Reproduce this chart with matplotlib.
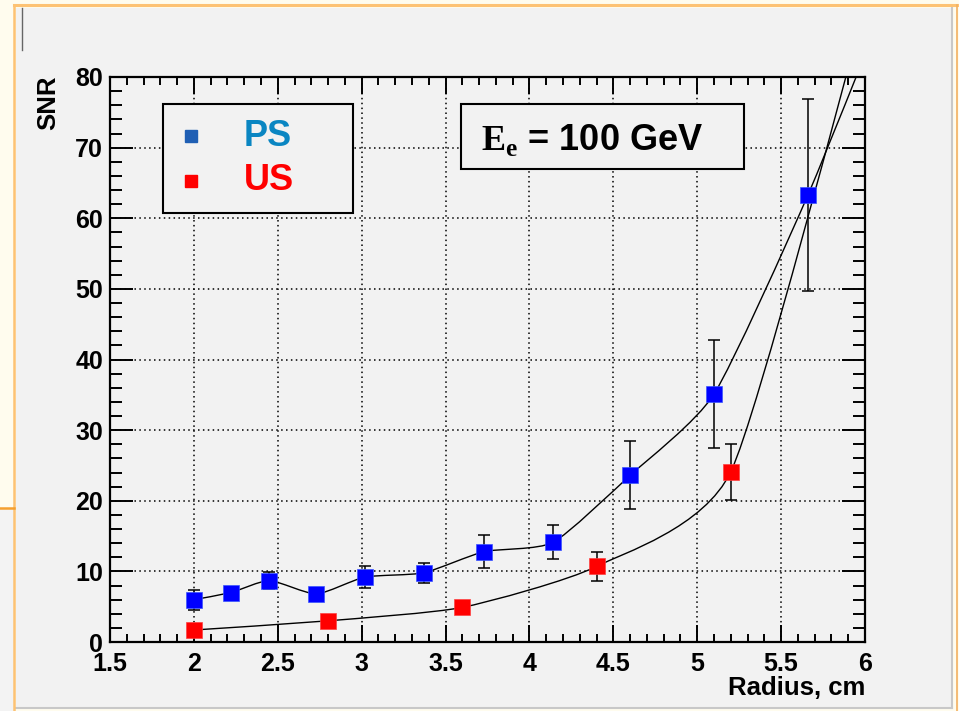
import numpy as np
import matplotlib
matplotlib.use("Agg")
import matplotlib.pyplot as plt
from matplotlib.patches import Rectangle, PathPatch
from matplotlib.path import Path
from matplotlib.lines import Line2D
from matplotlib.ticker import MultipleLocator, StrMethodFormatter

# PS points (last point lies above the frame, only the curve reaches it)
ps_r = [2.0, 2.22, 2.45, 2.73, 3.02, 3.37, 3.73, 4.14, 4.6, 5.1, 5.66, 6.25]
ps_snr = [6.0, 7.0, 8.7, 6.8, 9.2, 9.8, 12.8, 14.1, 23.6, 35.1, 63.3, 98.0]
ps_err = [1.4, 0.6, 1.15, 0.6, 1.55, 1.4, 2.3, 2.4, 4.8, 7.6, 13.6, 0.0]

# US points
us_r = [2.0, 2.8, 3.6, 4.4, 5.2, 6.0]
us_snr = [1.7, 3.0, 4.9, 10.7, 24.1, 90.0]
us_err = [0.5, 0.5, 0.5, 2.0, 3.95, 0.0]

x_ticks = [1.5, 2, 2.5, 3, 3.5, 4, 4.5, 5, 5.5, 6]
y_ticks = [0, 10, 20, 30, 40, 50, 60, 70, 80]

W, H = 959, 711
plt.rcParams["font.family"] = ["Liberation Sans", "DejaVu Sans"]
plt.rcParams["mathtext.fontset"] = "custom"
plt.rcParams["mathtext.bf"] = "Liberation Serif:bold"
plt.rcParams["mathtext.rm"] = "Liberation Serif:bold"


def fx(x):
    return x / W


def fy(y):
    return 1 - y / H


def smooth_path(xs, ys, k=0.1):
    # gently rounded bezier through the points, like ROOT's "C" option
    p = np.column_stack([xs, ys]).astype(float)
    pts = np.vstack([p[0], p, p[-1]])
    verts = [p[0]]
    codes = [Path.MOVETO]
    for i in range(1, len(pts) - 2):
        p0, p1, p2, p3 = pts[i - 1], pts[i], pts[i + 1], pts[i + 2]
        verts += [p1 + (p2 - p0) * k, p2 - (p3 - p1) * k, p2]
        codes += [Path.CURVE4] * 3
    return Path(verts, codes)


fig = plt.figure(figsize=(W / 100, H / 100), dpi=100)
fig.patch.set_facecolor("#fffcee")

# slide background pieces
fig.add_artist(Rectangle((fx(16), fy(708)), fx(936), 700 / H, transform=fig.transFigure,
                         facecolor="#f2f2f2", edgecolor="none", zorder=-3))
fig.add_artist(Rectangle((0, 0), fx(15), fy(508), transform=fig.transFigure,
                         facecolor="#f3f3f3", edgecolor="none", zorder=-3))
fig.add_artist(Line2D([fx(952), fx(952)], [fy(8), fy(708)], transform=fig.transFigure,
                      color="#c8c8c8", lw=1.5, zorder=-2))
fig.add_artist(Line2D([fx(16), fx(952)], [fy(708), fy(708)], transform=fig.transFigure,
                      color="#c8c8c8", lw=1.5, zorder=-2))
fig.add_artist(Line2D([fx(14), 1], [fy(5), fy(5)], transform=fig.transFigure,
                      color="#fdc273", lw=2.2, zorder=-1))
fig.add_artist(Line2D([fx(14), fx(14)], [fy(5), 0], transform=fig.transFigure,
                      color="#fdc273", lw=1.8, zorder=-1))
fig.add_artist(Line2D([fx(957), fx(957)], [fy(5), 0], transform=fig.transFigure,
                      color="#f2b060", lw=1.2, zorder=-1))
fig.add_artist(Line2D([0, fx(14)], [fy(508), fy(508)], transform=fig.transFigure,
                      color="#f5a030", lw=1.8, zorder=-1))
fig.add_artist(Line2D([fx(22), fx(22)], [fy(8), fy(50)], transform=fig.transFigure,
                      color="#666666", lw=1.0, zorder=-1))

ax = fig.add_axes([fx(110), fy(642), fx(755), 565 / H])
ax.set_facecolor("#f2f2f2")
ax.set_xlim(1.5, 6)
ax.set_ylim(0, 80)

ax.grid(True, which="major", color="black", linestyle=(0, (1, 2.2)), lw=1.1)
ax.set_axisbelow(True)

# connecting curves
for xs, ys in [(ps_r, ps_snr), (us_r, us_snr)]:
    ax.add_patch(PathPatch(smooth_path(xs, ys), facecolor="none",
                           edgecolor="black", lw=1.0, zorder=2))

ax.errorbar(ps_r, ps_snr, yerr=ps_err, fmt="none", ecolor="black",
            elinewidth=1.1, capsize=4, capthick=1.1, zorder=3)
ax.errorbar(us_r, us_snr, yerr=us_err, fmt="none", ecolor="black",
            elinewidth=1.1, capsize=4, capthick=1.1, zorder=3)
ax.plot(ps_r, ps_snr, ls="none", marker="s", ms=11.5, mfc="#0000ff",
        mec="#3a55ff", mew=0.5, zorder=4)
ax.plot(us_r, us_snr, ls="none", marker="s", ms=11.5, mfc="#ff0000",
        mec="#ff4040", mew=0.5, zorder=4)

ax.set_xticks(x_ticks)
ax.set_yticks(y_ticks)
ax.xaxis.set_minor_locator(MultipleLocator(0.1))
ax.yaxis.set_minor_locator(MultipleLocator(2))
ax.xaxis.set_major_formatter(StrMethodFormatter("{x:g}"))
ax.tick_params(which="both", direction="in", top=True, right=True, width=1.4,
               labelsize=18)
ax.tick_params(axis="x", which="major", length=12.5, pad=7)
ax.tick_params(axis="x", which="minor", length=6)
ax.tick_params(axis="y", which="major", length=16.5, pad=5)
ax.tick_params(axis="y", which="minor", length=8.5)
for lab in ax.get_xticklabels() + ax.get_yticklabels():
    lab.set_fontweight("bold")
for s in ax.spines.values():
    s.set_linewidth(1.6)

fig.text(fx(865), fy(695), "Radius, cm", ha="right", va="baseline",
         fontsize=18.5, fontweight="bold")
fig.text(fx(48), fy(75), "SNR", rotation=90, ha="center", va="top",
         fontsize=18.5, fontweight="bold")

# legend box
fig.add_artist(Rectangle((fx(163), fy(213)), fx(190), 109 / H, transform=fig.transFigure,
                         facecolor="#f2f2f2", edgecolor="black", lw=1.5, zorder=5))
fig.add_artist(Line2D([fx(191)], [fy(136)], transform=fig.transFigure, marker="s",
                      ms=8, color="#1f5fb4", ls="none", zorder=6))
fig.add_artist(Line2D([fx(191)], [fy(181)], transform=fig.transFigure, marker="s",
                      ms=8, color="#ff0000", ls="none", zorder=6))
fig.text(fx(244), fy(136), "PS", ha="left", va="center", fontsize=26,
         fontweight="bold", color="#0a86c2", zorder=7)
fig.text(fx(244), fy(181), "US", ha="left", va="center", fontsize=26,
         fontweight="bold", color="#ff0000", zorder=7)

# beam energy box
fig.add_artist(Rectangle((fx(461), fy(169)), fx(283), 65 / H, transform=fig.transFigure,
                         facecolor="#f2f2f2", edgecolor="black", lw=1.5, zorder=5))
fig.text(fx(481), fy(150), r"$\mathbf{E}_{\mathbf{e}}$ = 100 GeV", ha="left",
         va="baseline", fontsize=26, fontweight="bold", zorder=7)

fig.savefig("out.png", dpi=100, facecolor=fig.get_facecolor())
